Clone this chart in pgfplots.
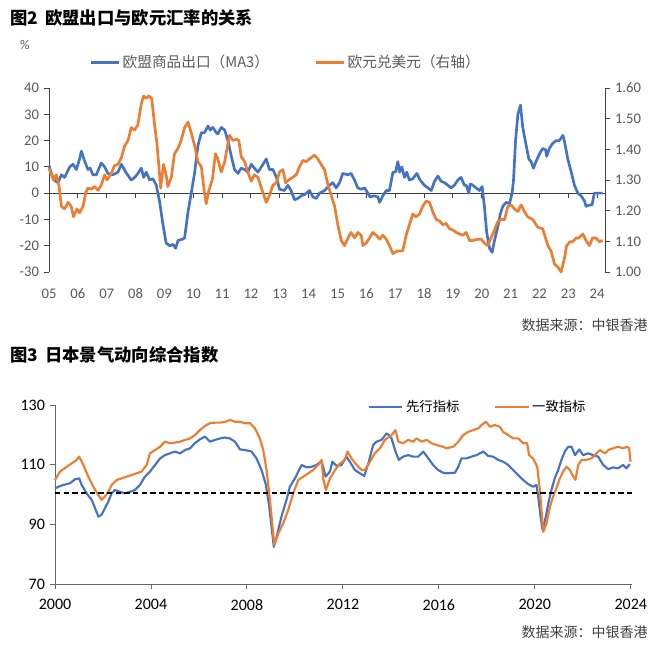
\documentclass[border=0pt]{standalone}
\usepackage{fontspec}
\usepackage{pgfplots}
\pgfplotsset{compat=1.18}
\usepackage{pgfplotstable}
\setmainfont{Carlito}
\newfontfamily\cjk{Noto Sans CJK SC}
\definecolor{eublue}{HTML}{4472C4}
\definecolor{euorange}{HTML}{ED7D31}
\definecolor{txtgray}{HTML}{595959}
\definecolor{axgray}{HTML}{404040}

% 图2: EU goods exports, yoy %, 3m moving average
\pgfplotstableread{
year val
2005.00 10.5
2005.10 7
2005.20 4.8
2005.31 4
2005.43 7
2005.54 6
2005.72 10
2005.83 11
2005.95 9
2006.06 13
2006.12 16
2006.24 12
2006.35 9
2006.43 9.5
2006.52 7
2006.64 7
2006.81 11.5
2006.93 10
2007.04 7.5
2007.22 7
2007.39 8
2007.51 11
2007.66 8
2007.85 5
2007.97 6
2008.08 7.5
2008.20 9.5
2008.28 6
2008.37 8
2008.49 5
2008.60 5.5
2008.72 3
2008.83 -3
2008.95 -12
2009.06 -19
2009.18 -20
2009.30 -19.5
2009.39 -21
2009.47 -18
2009.64 -17.5
2009.70 -17
2009.82 -7
2009.93 0
2010.05 8
2010.16 18
2010.28 23
2010.39 23
2010.51 25.5
2010.59 24
2010.68 25
2010.80 23
2010.85 22.5
2010.97 25
2011.09 24
2011.20 20
2011.32 14
2011.43 9
2011.55 7.5
2011.66 9.5
2011.78 9
2011.89 8
2012.01 11
2012.12 9.5
2012.24 8
2012.36 10
2012.53 13
2012.64 9
2012.76 9
2012.88 6
2012.99 1.5
2013.16 1
2013.28 3
2013.39 1
2013.51 -2.5
2013.63 -2
2013.74 -1
2013.86 -0.5
2014.03 1
2014.15 -1.5
2014.26 -2
2014.38 0
2014.55 1
2014.72 3
2014.84 4
2014.95 2
2015.07 4
2015.18 7.5
2015.36 7
2015.47 7.5
2015.59 5
2015.70 2
2015.82 1.5
2015.94 2
2016.05 0
2016.13 -1.5
2016.28 -1
2016.40 -1.5
2016.46 -3.5
2016.57 -1
2016.69 1
2016.80 1
2016.92 8
2017.01 8
2017.09 12
2017.15 8
2017.23 10
2017.32 6
2017.40 8
2017.49 5
2017.61 5.5
2017.75 7.5
2017.86 5
2018.01 3
2018.13 2
2018.25 1
2018.36 4.5
2018.48 6.5
2018.59 4.5
2018.71 4
2018.82 3
2018.94 2
2019.05 3
2019.17 5
2019.28 6
2019.40 3
2019.46 3
2019.55 0
2019.60 3.5
2019.69 3
2019.80 2
2019.92 1
2020.01 2.5
2020.09 -5
2020.17 -15
2020.27 -21
2020.36 -22.5
2020.44 -18
2020.55 -13
2020.64 -8
2020.73 -5
2020.84 -3.5
2020.96 -4
2021.05 0
2021.10 5
2021.17 20
2021.25 30
2021.34 33.5
2021.42 25
2021.54 18
2021.63 13
2021.71 12
2021.79 9.5
2021.88 12
2022.00 15
2022.11 17
2022.21 16.5
2022.25 14
2022.34 17
2022.46 19
2022.58 20
2022.69 20
2022.81 22
2022.86 20
2022.98 13
2023.10 8
2023.21 3
2023.33 0
2023.44 -1
2023.56 -3
2023.61 -5
2023.73 -4.5
2023.82 -4.5
2023.90 0
2023.96 0
2024.19 0
}\euexport

% 图2: EUR/USD (right axis)
\pgfplotstableread{
year rate
2005.00 1.339
2005.08 1.317
2005.16 1.300
2005.25 1.317
2005.35 1.279
2005.43 1.214
2005.54 1.206
2005.66 1.227
2005.77 1.214
2005.85 1.180
2005.97 1.206
2006.06 1.193
2006.18 1.214
2006.27 1.257
2006.35 1.274
2006.47 1.270
2006.58 1.279
2006.70 1.266
2006.81 1.283
2006.93 1.317
2007.01 1.300
2007.16 1.321
2007.27 1.347
2007.39 1.351
2007.51 1.373
2007.62 1.411
2007.74 1.429
2007.85 1.471
2007.97 1.463
2008.08 1.480
2008.20 1.549
2008.28 1.574
2008.37 1.566
2008.46 1.574
2008.56 1.566
2008.66 1.480
2008.74 1.420
2008.81 1.343
2008.87 1.274
2008.97 1.351
2009.06 1.317
2009.12 1.279
2009.24 1.309
2009.35 1.386
2009.47 1.403
2009.58 1.429
2009.70 1.471
2009.82 1.489
2009.93 1.454
2010.05 1.411
2010.16 1.360
2010.28 1.343
2010.39 1.257
2010.45 1.223
2010.54 1.266
2010.66 1.300
2010.77 1.386
2010.85 1.369
2010.97 1.326
2011.09 1.360
2011.17 1.403
2011.26 1.446
2011.37 1.429
2011.49 1.433
2011.58 1.429
2011.66 1.377
2011.78 1.360
2011.89 1.326
2012.01 1.296
2012.12 1.317
2012.24 1.309
2012.36 1.274
2012.53 1.227
2012.64 1.249
2012.76 1.283
2012.88 1.291
2012.99 1.326
2013.11 1.334
2013.20 1.291
2013.31 1.300
2013.45 1.309
2013.57 1.317
2013.68 1.343
2013.80 1.364
2013.91 1.360
2014.03 1.369
2014.20 1.381
2014.32 1.369
2014.43 1.351
2014.55 1.334
2014.67 1.283
2014.90 1.214
2015.01 1.154
2015.13 1.103
2015.24 1.086
2015.36 1.111
2015.47 1.129
2015.59 1.111
2015.70 1.129
2015.82 1.120
2015.88 1.086
2015.99 1.094
2016.11 1.111
2016.22 1.129
2016.34 1.120
2016.46 1.107
2016.57 1.120
2016.69 1.107
2016.80 1.086
2016.92 1.060
2017.09 1.069
2017.26 1.069
2017.38 1.120
2017.49 1.154
2017.61 1.189
2017.72 1.180
2017.84 1.189
2017.95 1.214
2018.07 1.231
2018.19 1.227
2018.30 1.197
2018.42 1.171
2018.53 1.167
2018.65 1.154
2018.76 1.159
2018.88 1.141
2019.00 1.137
2019.11 1.129
2019.23 1.124
2019.34 1.120
2019.46 1.129
2019.57 1.103
2019.69 1.103
2019.86 1.107
2019.98 1.107
2020.09 1.094
2020.21 1.086
2020.32 1.111
2020.44 1.137
2020.55 1.163
2020.67 1.171
2020.79 1.171
2020.90 1.214
2021.02 1.219
2021.13 1.206
2021.25 1.197
2021.36 1.219
2021.48 1.197
2021.59 1.180
2021.77 1.171
2021.94 1.146
2022.11 1.141
2022.29 1.086
2022.40 1.069
2022.52 1.026
2022.63 1.017
2022.75 1.000
2022.86 1.043
2022.94 1.086
2023.06 1.099
2023.15 1.099
2023.27 1.111
2023.36 1.111
2023.50 1.124
2023.61 1.103
2023.73 1.086
2023.84 1.111
2023.96 1.111
2024.07 1.099
2024.19 1.103
}\eurusd

% 图3: Japan leading index
\pgfplotstableread{
year val
2000.00 102
2000.14 102.6
2000.35 103.2
2000.63 103.8
2000.83 105.1
2001.01 105.4
2001.11 103.2
2001.32 100.4
2001.53 98.2
2001.67 95.4
2001.81 92.6
2001.94 93.2
2002.08 95.4
2002.22 97.6
2002.36 100.4
2002.50 101.5
2002.71 100.9
2002.92 100.4
2003.13 100.9
2003.33 101.5
2003.54 103.2
2003.75 106
2003.96 107.7
2004.17 109.9
2004.38 112.1
2004.58 113.2
2004.79 113.8
2005.00 114.4
2005.21 113.8
2005.42 114.9
2005.63 115.5
2005.83 117.2
2006.04 118.5
2006.25 119.4
2006.46 117.7
2006.67 118.3
2006.88 118.8
2007.08 119.1
2007.29 118.8
2007.50 117.7
2007.71 115.1
2007.92 114.9
2008.19 114.4
2008.40 112.1
2008.61 108.2
2008.78 103.6
2008.92 96.5
2009.12 82.5
2009.24 85.9
2009.44 92.6
2009.65 98.2
2009.79 102.6
2010.00 105.4
2010.14 107.7
2010.28 109.9
2010.49 109.1
2010.69 109.3
2010.90 109.9
2011.11 111.3
2011.28 106
2011.46 107.7
2011.56 111
2011.74 109.6
2011.94 109.9
2012.15 112.7
2012.29 111
2012.50 108.2
2012.71 107.1
2012.89 106.2
2013.06 110.4
2013.26 116.6
2013.40 117.7
2013.61 118.3
2013.82 120.5
2013.92 119.9
2014.03 118.8
2014.17 114.9
2014.33 111.6
2014.51 112.7
2014.72 113.2
2014.93 112.7
2015.14 112.7
2015.35 114.4
2015.56 112.1
2015.76 109.9
2015.97 108.2
2016.18 107.3
2016.32 107.1
2016.67 107.3
2016.81 109.3
2016.94 112.1
2017.15 112.1
2017.36 112.7
2017.57 113.2
2017.85 114.4
2018.06 112.9
2018.26 112.7
2018.47 111.6
2018.68 111.0
2018.89 109.9
2019.10 108.2
2019.31 106.5
2019.51 104.9
2019.72 103.5
2019.93 102.6
2020.07 103.2
2020.14 99.3
2020.24 92.6
2020.32 88.1
2020.46 92.6
2020.56 97.0
2020.69 101.5
2020.83 105.4
2020.97 108.2
2021.11 111.6
2021.25 114.4
2021.39 116.0
2021.53 116.0
2021.67 113.2
2021.85 115.1
2022.01 113.2
2022.22 113.8
2022.43 113.2
2022.64 112.7
2022.85 109.9
2023.06 108.5
2023.26 109.1
2023.47 108.8
2023.68 109.9
2023.82 108.8
2023.96 110.2
}\jpleading

% 图3: Japan coincident index
\pgfplotstableread{
year val
2000.00 104.9
2000.21 107.7
2000.49 109.3
2000.69 110.4
2000.90 111.6
2001.01 112.7
2001.18 109.9
2001.39 106.0
2001.60 102.6
2001.81 99.8
2001.94 98.2
2002.08 99.3
2002.22 100.9
2002.36 103.2
2002.57 104.9
2002.78 105.4
2002.99 106.0
2003.19 106.5
2003.40 107.1
2003.61 107.7
2003.82 109.9
2003.96 113.8
2004.17 114.9
2004.38 116.0
2004.58 117.7
2004.79 117.2
2005.00 117.4
2005.21 117.7
2005.42 118.3
2005.63 118.8
2005.83 119.9
2006.04 121.6
2006.25 123.0
2006.46 123.9
2006.67 124.1
2006.88 124.1
2007.08 124.3
2007.29 125.0
2007.50 124.4
2007.71 124.4
2007.92 123.9
2008.13 123.9
2008.33 122.2
2008.54 118.8
2008.68 114.9
2008.82 108.2
2008.96 98.2
2009.14 83.1
2009.31 87.0
2009.51 90.3
2009.72 94.8
2009.93 100.4
2010.14 104.9
2010.35 106.0
2010.56 107.1
2010.76 108.2
2010.97 109.9
2011.11 111.6
2011.18 105.4
2011.29 101.5
2011.46 105.4
2011.67 108.2
2011.88 110.4
2012.08 111.6
2012.19 114.4
2012.36 112.1
2012.57 109.9
2012.78 108.2
2012.92 108.2
2013.13 111.0
2013.33 113.8
2013.54 115.5
2013.75 118.3
2014.03 119.9
2014.19 121.6
2014.31 117.7
2014.51 117.2
2014.72 118.3
2014.93 117.7
2015.07 118.8
2015.28 117.7
2015.49 118.3
2015.69 117.2
2015.90 116.6
2016.18 116.0
2016.32 115.5
2016.60 116.0
2016.81 117.7
2017.01 119.9
2017.22 121.0
2017.43 121.6
2017.64 122.2
2017.78 123.3
2017.96 124.4
2018.13 122.7
2018.33 123.3
2018.54 122.7
2018.68 121.0
2018.89 119.9
2019.10 118.8
2019.31 118.8
2019.51 117.2
2019.68 117.2
2019.76 113.2
2019.93 112.1
2020.10 109.3
2020.21 101.5
2020.35 87.5
2020.49 90.3
2020.63 95.9
2020.76 99.3
2020.90 102.1
2021.04 105.4
2021.18 107.7
2021.32 109.3
2021.46 108.2
2021.57 106.5
2021.69 104.9
2021.81 109.9
2021.95 111.6
2022.15 111.6
2022.36 112.1
2022.57 113.8
2022.71 114.9
2022.92 113.8
2023.06 114.9
2023.26 115.5
2023.47 116.0
2023.68 115.5
2023.85 116.0
2023.93 115.5
2023.99 111.0
}\jpcoincident

\begin{document}
\begin{tikzpicture}
\useasboundingbox (0,0) rectangle (495pt,-487.5pt);

% ---------- 图2 ----------
\node[anchor=west, inner sep=0pt, font=\cjk\bfseries\fontsize{13}{15}\selectfont] at (7.5pt,-13.5pt) {图2\hspace{0.4em}欧盟出口与欧元汇率的关系};
\node[inner sep=0pt, text=txtgray, font=\fontsize{10}{12}\selectfont] at (18.75pt,-33.75pt) {\%};

\begin{axis}[
  at={(36.75pt,-204pt)}, anchor=south west,
  scale only axis, width=417pt, height=138pt,
  xmin=2005, xmax=2024.27, ymin=-30, ymax=40,
  axis y line*=left, axis x line*=middle,
  hide obscured x ticks=false, hide obscured y ticks=false,
  axis line style={-, axgray, line width=0.7pt},
  tick align=outside, major tick length=4pt,
  tick style={axgray, line width=0.7pt},
  xtick={2005,...,2024}, xticklabels={},
  ytick={-30,-20,-10,0,10,20,30,40},
  yticklabels={-30,-20,-10,0,10,20,30,40},
  yticklabel style={font=\fontsize{11}{13}\selectfont, text=txtgray},
  clip=false,
]
\addplot[eublue, line width=2pt, line join=round] table {\euexport};
\end{axis}

\begin{axis}[
  at={(36.75pt,-204pt)}, anchor=south west,
  scale only axis, width=417pt, height=138pt,
  xmin=2005, xmax=2024.27, ymin=1.0, ymax=1.6,
  axis y line*=right, axis x line*=bottom,
  x axis line style={draw=none}, y axis line style={-, axgray, line width=0.7pt},
  tick align=outside, major tick length=4pt,
  ytick style={axgray, line width=0.7pt},
  xtick style={draw=none},
  xtick={2005,...,2024},
  xticklabels={05,06,07,08,09,10,11,12,13,14,15,16,17,18,19,20,21,22,23,24},
  ytick={1.0,1.1,1.2,1.3,1.4,1.5,1.6},
  yticklabels={1.00,1.10,1.20,1.30,1.40,1.50,1.60},
  tick label style={font=\fontsize{11}{13}\selectfont, text=txtgray},
  xticklabel style={yshift=-5pt},
  legend style={draw=none, fill=none, at={(0.065,1.14)}, anchor=west,
    font=\cjk\fontsize{11}{13}\selectfont, text=txtgray,
    /tikz/every even column/.append style={column sep=32pt}},
  legend columns=2,
  legend image code/.code={\draw[#1] (0pt,0pt) -- (21pt,0pt);},
  clip=false,
]
\addlegendimage{eublue, line width=2pt}
\addlegendentry{欧盟商品出口（MA3）}
\addplot[euorange, line width=2pt, line join=round] table[y=rate] {\eurusd};
\addlegendentry{欧元兑美元（右轴）}
\end{axis}

\node[anchor=east, inner sep=0pt, text=axgray, font=\cjk\fontsize{10.5}{12}\selectfont] at (486pt,-243.75pt) {数据来源：中银香港};

% ---------- 图3 ----------
\node[anchor=west, inner sep=0pt, font=\cjk\bfseries\fontsize{13}{15}\selectfont] at (7.5pt,-266.25pt) {图3\hspace{0.4em}日本景气动向综合指数};

\begin{axis}[
  at={(41.25pt,-438pt)}, anchor=south west,
  scale only axis, width=432.75pt, height=134.25pt,
  xmin=2000, xmax=2024.05, ymin=70, ymax=130,
  axis x line*=bottom, axis y line*=left,
  axis line style={-, black!60, line width=0.7pt},
  tick align=outside, major tick length=4pt,
  tick style={black!60, line width=0.7pt},
  xtick={2000,2004,...,2024},
  xticklabels={2000,2004,2008,2012,2016,2020,2024},
  ytick={70,90,110,130}, yticklabels={70,90,110,130},
  tick label style={font=\fontsize{12}{14}\selectfont, text=black},
  xticklabel style={yshift=-4pt},
  legend style={draw=none, fill=none, at={(0.535,0.99)}, anchor=west,
    font=\cjk\fontsize{10}{12}\selectfont,
    /tikz/every even column/.append style={column sep=24pt}},
  legend columns=2,
  legend image code/.code={\draw[#1] (0pt,0pt) -- (25pt,0pt);},
  clip=false,
]
\addplot[eublue, line width=1.6pt, line join=round] table {\jpleading};
\addlegendentry{先行指标}
\addplot[euorange, line width=1.6pt, line join=round] table {\jpcoincident};
\addlegendentry{一致指标}
\addplot[black, line width=1pt, dash pattern=on 4pt off 2.5pt, forget plot] coordinates {(2000,100.5) (2024.05,100.5)};
\end{axis}

\node[anchor=east, inner sep=0pt, text=axgray, font=\cjk\fontsize{10.5}{12}\selectfont] at (486pt,-474pt) {数据来源：中银香港};
\end{tikzpicture}
\end{document}
